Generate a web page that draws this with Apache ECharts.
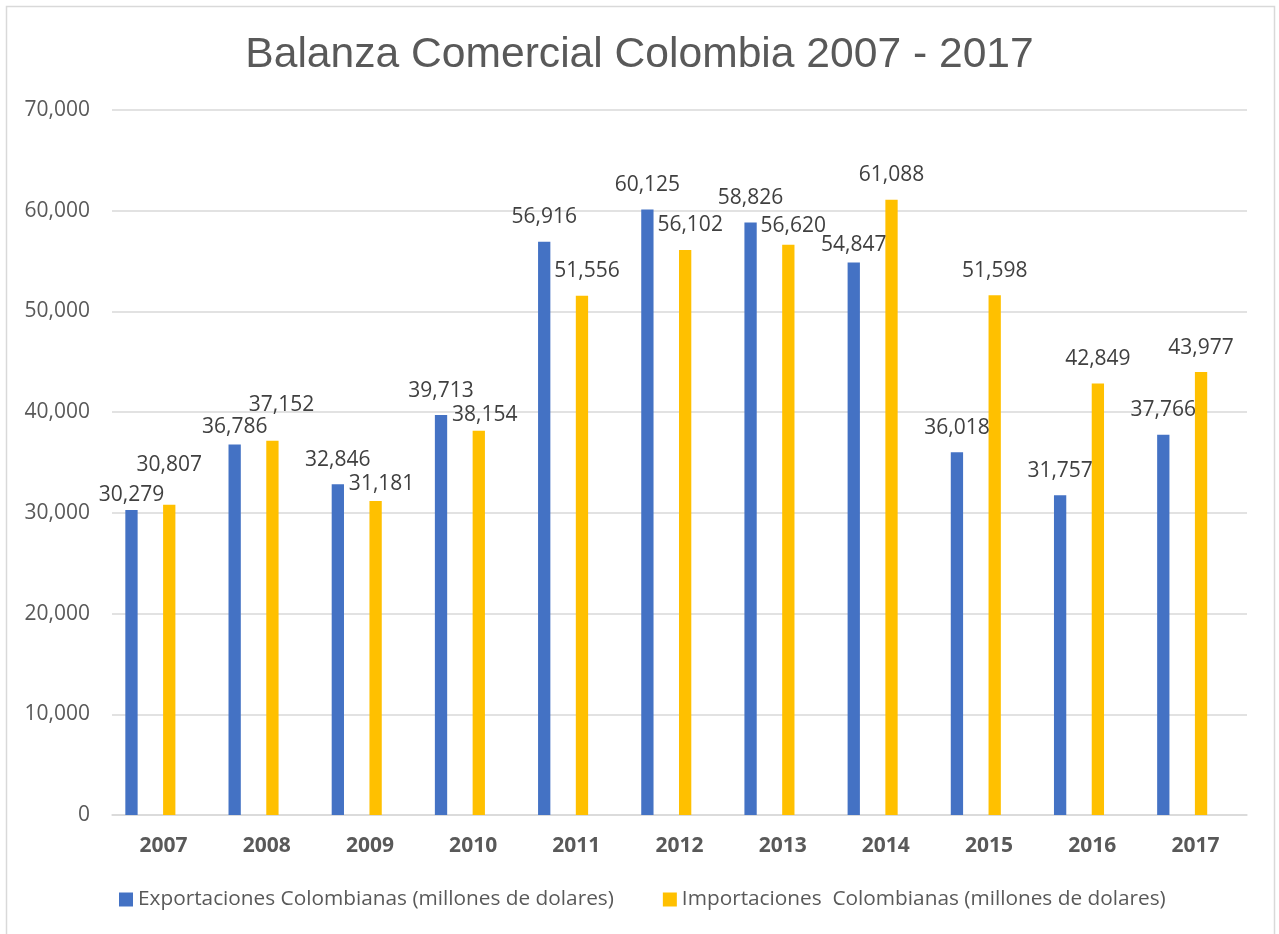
<!DOCTYPE html>
<html>
<head>
<meta charset="utf-8">
<script src="https://cdn.jsdelivr.net/npm/echarts@6/dist/echarts.min.js"></script>
<style>
html,body{margin:0;padding:0;background:#fff;}
#chart{width:1279px;height:934px;}
</style>
</head>
<body>
<div id="chart"></div>
<script>
const titleText = 'Balanza Comercial Colombia 2007 - 2017';
const years = ['2007','2008','2009','2010','2011','2012','2013','2014','2015','2016','2017'];
const exportsName = 'Exportaciones Colombianas (millones de dolares)';
const importsName = 'Importaciones  Colombianas (millones de dolares)';
const exportsValues = [30279, 36786, 32846, 39713, 56916, 60125, 58826, 54847, 36018, 31757, 37766];
const importsValues = [30807, 37152, 31181, 38154, 51556, 56102, 56620, 61088, 51598, 42849, 43977];
const yTicks = [0, 10000, 20000, 30000, 40000, 50000, 60000, 70000];

// label nudges (style only), [dx, dy] in px, keyed by category index
const exportsLabelNudge = {0: [0, 9], 1: [0, 7], 7: [0, 7]};
const importsLabelNudge = {0: [0, -15], 1: [9, -11], 2: [6, 8], 3: [6, 9], 4: [5, 0], 5: [5, 0], 6: [5, 6]};

const fmt = v => Number(v).toLocaleString('en-US');
const withNudges = (vals, nudges) => vals.map((v, i) => nudges[i] ? {value: v, label: {offset: nudges[i]}} : v);

const chart = echarts.init(document.getElementById('chart'), null, {renderer: 'canvas'});
const labelStyle = {
  show: true, position: 'top', distance: 14,
  fontFamily: 'Open Sans', fontSize: 21, color: '#404040',
  formatter: p => fmt(p.value)
};
chart.setOption({
  backgroundColor: '#ffffff',
  animation: false,
  graphic: [{
    type: 'rect', silent: true,
    shape: {x: 6.5, y: 6.5, width: 1268, height: 940},
    style: {fill: 'none', stroke: '#d9d9d9', lineWidth: 1.5}
  }],
  title: {
    text: titleText, left: 'center', top: 34, padding: 0,
    textStyle: {fontFamily: 'Liberation Sans', fontSize: 42.6, fontWeight: 'normal', color: '#595959'}
  },
  legend: {
    data: [exportsName, importsName],
    left: 119, top: 889, itemWidth: 14, itemHeight: 14, itemGap: 49,
    icon: 'rect', padding: 0,
    textStyle: {fontFamily: 'Open Sans', fontSize: 20.8, color: '#595959'}
  },
  grid: {left: 112, right: 32, top: 110, bottom: 119, containLabel: false},
  xAxis: {
    type: 'category', data: years,
    axisLine: {lineStyle: {color: '#d9d9d9', width: 1.5}},
    axisTick: {show: false},
    axisLabel: {fontFamily: 'Open Sans', fontSize: 21, fontWeight: 'bold', color: '#595959', margin: 21},
    splitLine: {show: false}
  },
  yAxis: {
    type: 'value', min: yTicks[0], max: yTicks[yTicks.length - 1], interval: yTicks[1] - yTicks[0],
    axisLine: {show: false}, axisTick: {show: false},
    axisLabel: {fontFamily: 'Open Sans', fontSize: 21, color: '#595959', margin: 22, formatter: fmt},
    splitLine: {lineStyle: {color: '#d9d9d9', width: 1.5}}
  },
  series: [
    {name: exportsName, type: 'bar', data: withNudges(exportsValues, exportsLabelNudge),
     barWidth: 12.3, barGap: '207%', itemStyle: {color: '#4472C4'}, label: labelStyle},
    {name: importsName, type: 'bar', data: withNudges(importsValues, importsLabelNudge),
     barWidth: 12.3, barGap: '207%', itemStyle: {color: '#FFC000'}, label: labelStyle},
    {name: 'slot', type: 'bar', data: [], barWidth: 0.01, barGap: '207%', silent: true}
  ]
});
</script>
</body>
</html>
